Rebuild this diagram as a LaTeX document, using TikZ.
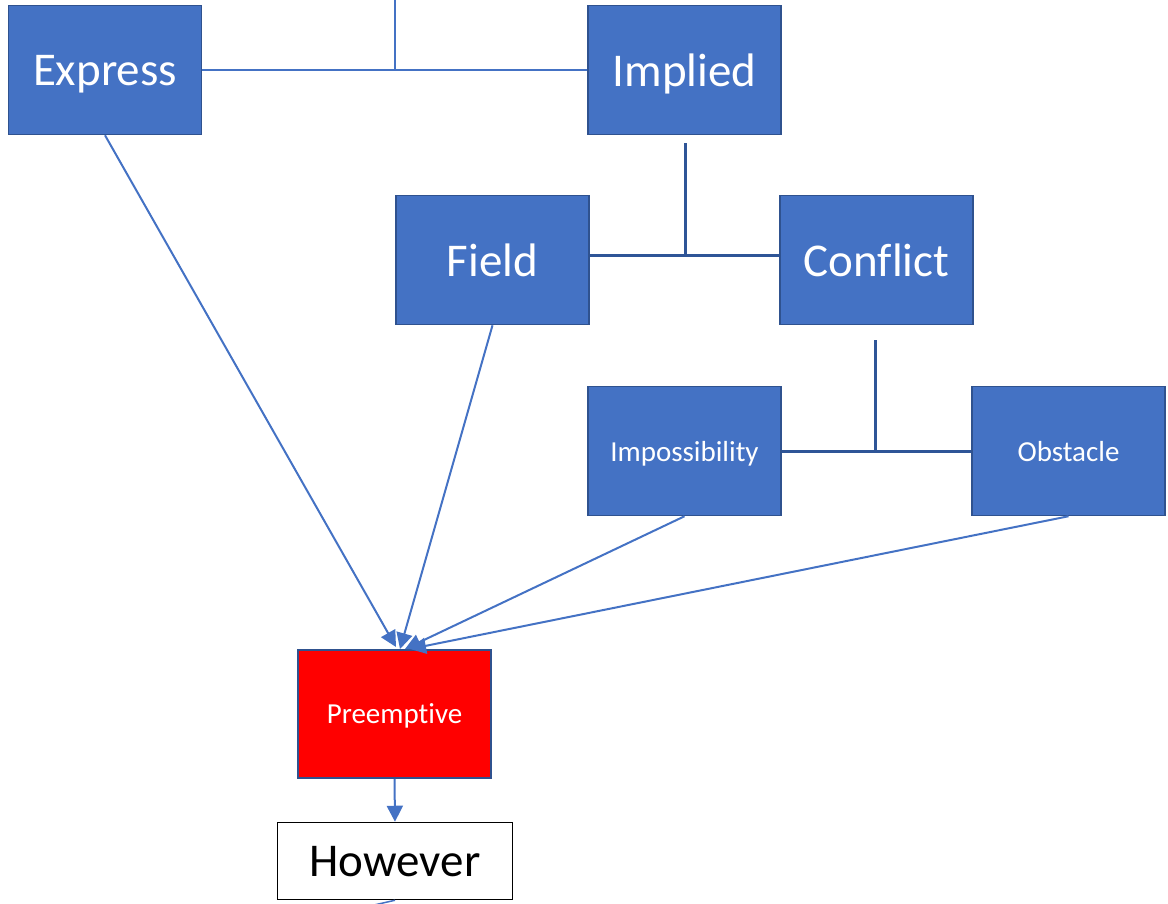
\documentclass[tikz,border=0pt]{standalone}
\usepackage{fontspec}
\setmainfont{Carlito}[Ligatures={NoCommon}]
\usetikzlibrary{arrows.meta,calc}
\definecolor{boxblue}{HTML}{4472C4}
\definecolor{boxedge}{HTML}{2F528F}
\definecolor{darkline}{HTML}{2F5597}
\begin{document}
\begin{tikzpicture}[x=1pt,y=-1pt,
  bluebox/.style={draw=boxedge,line width=1.5pt,fill=boxblue,text=white,minimum width=193pt,minimum height=129pt,inner sep=0pt,text depth=0pt,font=\fontsize{47}{50}\selectfont},
  smallbox/.style={bluebox,font=\fontsize{29}{32}\selectfont},
  thinlink/.style={draw=boxblue,line width=1.5pt},
  darklink/.style={draw=darkline,line width=3pt},
  arrowlink/.style={draw=boxblue,line width=2pt,-{Triangle[length=16pt,width=16pt]}}]
\useasboundingbox (0,0) rectangle (1168,903);
\node[bluebox] (exp) at (105,70) {Express};
\node[bluebox] (imp) at (684.5,70) {Implied};
\node[bluebox] (fld) at (492.5,260) {Field};
\node[bluebox] (con) at (876.5,260) {Conflict};
\node[smallbox] (ims) at (684.5,451) {Impossibility};
\node[smallbox] (obs) at (1068.5,451) {Obstacle};
\node[smallbox,fill=red,minimum height=128pt] (pre) at (394.5,714) {Preemptive};
\node[draw=black,line width=1.5pt,fill=white,minimum width=235pt,minimum height=77pt,inner sep=0pt,text depth=0pt,font=\fontsize{47}{50}\selectfont] (how) at (395,861) {However};
% top tree
\coordinate (topin) at (395,0);
\draw[thinlink] (exp.east) -- (imp.west);
\draw[thinlink] (topin) -- (topin |- exp.east);
% implied tree
\coordinate (impstem) at ($(imp.south)+(0.5,8)$);
\draw[darklink] ($(fld.east)+(0,-5)$) -- ($(con.west)+(0,-5)$);
\draw[darklink] (impstem) -- ($(impstem |- fld.east)+(0,-5)$);
% conflict tree
\coordinate (constem) at ($(con.south)+(-1.5,15)$);
\draw[darklink] (ims.east) -- (obs.west);
\draw[darklink] (constem) -- (constem |- ims.east);
% arrows into Preemptive
\coordinate (t1) at (396,647);
\coordinate (t2) at (400,649);
\coordinate (t3) at (405,649);
\coordinate (t4) at (410,649);
\draw[arrowlink] (exp.south) -- (t1);
\draw[arrowlink] (fld.south) -- (t2);
\draw[arrowlink] (ims.south) -- (t3);
\draw[arrowlink] (obs.south) -- (t4);
\draw[arrowlink] (pre.south) -- (how.north);
\draw[thinlink] (how.south) -- ++(-22,5);
\end{tikzpicture}
\end{document}
